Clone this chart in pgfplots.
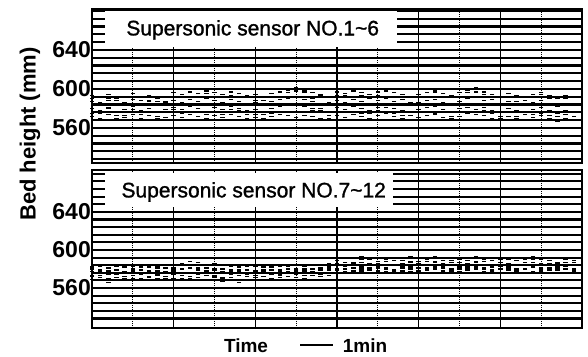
\documentclass[border=0pt]{standalone}
\usepackage{pgfplots}
\usepackage{pgfplotstable}
\pgfplotsset{compat=1.18}
\usepackage{fontspec}
\setmainfont{Liberation Sans}
\newfontfamily\medfont[FakeBold=1.2]{Liberation Sans}

\pgfplotstableread{
x a b c d e f
0.0 593 587 580 572 590 575
0.2 591 585 578 570 586 575
0.4 594 588 581 574 590 580
0.6 590 584 577 569 588 573
0.8 592 586 579 571 586 573
1.0 595 589 582 574 591 579
1.2 591 585 578 570 588 574
1.4 593 587 580 573 588 576
1.6 590 584 577 569 587 572
1.8 592 586 579 571 587 576
2.0 596 588 581 573 592 579
2.2 594 586 579 571 592 575
2.4 597 589 582 574 591 576
2.6 595 587 580 572 591 577
2.8 598 590 583 570 595 574
3.0 596 588 581 573 591 576
3.2 594 586 579 571 591 574
3.4 597 589 582 574 593 579
3.6 595 587 580 572 591 578
3.8 593 585 578 570 591 574
4.0 594 586 579 571 588 574
4.2 592 584 577 569 588 574
4.4 595 587 580 572 592 575
4.6 597 589 582 574 592 577
4.8 599 590 583 573 596 576
5.0 601 592 584 571 598 577
5.2 598 589 582 573 596 577
5.4 596 587 580 572 590 578
5.6 594 585 578 570 593 580
5.8 592 584 577 569 586 573
6.0 597 588 581 573 593 577
6.2 595 586 579 571 593 577
6.4 598 589 582 574 592 576
6.6 596 587 580 572 593 575
6.8 594 585 578 570 590 575
7.0 597 588 581 573 593 578
7.2 599 590 583 575 598 581
7.4 596 587 580 572 592 575
7.6 594 585 578 570 589 573
7.8 592 583 576 568 586 573
8.0 594 586 579 571 591 576
8.2 596 588 581 573 592 577
8.4 598 589 582 574 596 575
8.6 595 586 579 571 591 576
8.8 593 584 577 569 591 572
9.0 596 587 580 572 591 576
9.2 599 590 583 575 596 581
9.4 601 591 584 574 597 579
9.6 597 588 581 573 594 578
9.8 594 585 578 570 589 575
10.0 592 584 577 569 591 572
10.2 595 587 580 572 591 576
10.4 593 585 578 570 587 572
10.6 591 583 576 568 588 574
10.8 594 586 579 571 591 574
11.0 596 588 581 573 594 575
11.2 593 585 578 570 590 573
11.4 590 582 575 567 585 572
11.6 593 585 578 570 590 574
11.8 591 583 576 568 585 572
}\uppertable

\pgfplotstableread{
x a b c d e f
0.0 582 577 572 580 573 569
0.2 583 578 573 579 576 571
0.4 581 576 570 578 574 566
0.6 584 579 574 583 576 571
0.8 582 577 572 577 572 570
1.0 583 578 573 580 576 570
1.2 584 579 574 582 576 570
1.4 582 577 571 578 572 569
1.6 583 578 573 581 574 570
1.8 581 576 572 577 575 570
2.0 584 579 574 581 578 570
2.2 586 580 573 584 575 570
2.4 588 581 572 581 572 570
2.6 587 579 571 581 574 568
2.8 585 578 573 581 575 569
3.0 586 579 572 580 573 571
3.2 584 577 570 580 571 567
3.4 583 578 571 579 574 569
3.6 582 577 569 579 573 566
3.8 584 579 572 583 574 569
4.0 583 578 573 578 575 571
4.2 582 577 572 579 575 569
4.4 584 579 574 582 576 570
4.6 583 578 573 579 574 571
4.8 585 580 575 583 577 572
5.0 584 579 574 580 577 571
5.2 583 578 573 580 575 570
5.4 585 580 575 584 577 573
5.6 584 579 574 581 574 572
5.8 586 581 576 583 579 573
6.0 589 584 579 586 580 575
6.2 591 585 580 587 583 577
6.4 592 586 581 587 585 578
6.6 593 587 580 590 582 578
6.8 590 585 579 586 581 575
7.0 591 586 581 588 583 578
7.2 590 585 580 588 581 577
7.4 589 584 578 585 579 576
7.6 592 586 581 589 583 578
7.8 593 587 580 588 582 577
8.0 591 586 581 588 584 578
8.2 590 585 579 588 581 576
8.4 593 587 582 588 584 580
8.6 591 586 581 589 583 578
8.8 589 584 578 587 580 575
9.0 590 585 580 587 582 577
9.2 592 586 581 589 583 579
9.4 593 587 582 588 583 580
9.6 590 585 580 588 581 577
9.8 589 584 579 585 582 577
10.0 590 585 580 587 583 576
10.2 592 586 581 590 582 579
10.4 589 584 578 584 580 576
10.6 590 585 580 587 580 576
10.8 593 587 582 590 584 577
11.0 590 585 580 586 581 578
11.2 589 584 579 586 581 576
11.4 591 586 581 587 583 579
11.6 590 585 580 587 583 576
11.8 589 584 578 587 580 577
}\lowertable

\begin{document}
\begin{tikzpicture}
\pgfplotsset{
  recorder/.style={
    scale only axis, width=490pt,
    xmin=0, xmax=12,
    xtick={2,4,...,10}, xticklabels={},
    extra x ticks={1,3,...,11}, extra x tick labels={},
    extra x tick style={grid=major, major grid style={black, line width=1pt, densely dotted}},
    xmajorgrids, major grid style={black, line width=1.1pt},
    x tick style={draw=none},
    ytick={560,600,640}, minor ytick={528,536,...,680},
    ymajorgrids=false, yminorgrids,
    minor grid style={black, line width=2.1pt},
    ytick pos=left,
    y tick style={black, line width=1.5pt},
    major tick length=8pt, minor tick length=8pt,
    axis line style={line width=2.8pt},
    /pgf/number format/assume math mode=true,
    yticklabel style={font=\fontsize{23}{23}\selectfont\bfseries, inner sep=1pt},
  },
  dots/.style={black, only marks, mark=-, mark size=2.2pt, mark options={line width=1.3pt}},
}
\path[use as bounding box] (0,0) rectangle (588pt,-356pt);

\begin{axis}[recorder, at={(92pt,-9pt)}, anchor=north west, height=154pt,
  ymin=524, ymax=682]
  \addplot[dots] table[x=x, y=a] {\uppertable};
  \addplot[dots] table[x=x, y=e] {\uppertable};
  \addplot[dots] table[x=x, y=b] {\uppertable};
  \addplot[dots] table[x=x, y=c] {\uppertable};
  \addplot[dots] table[x=x, y=f] {\uppertable};
  \addplot[dots] table[x=x, y=d] {\uppertable};
  \fill[white] (rel axis cs:0.026,0.753) rectangle (rel axis cs:0.622,0.985);
  \node[font=\medfont\fontsize{21}{21}\selectfont] at (rel axis cs:0.328,0.864) {Supersonic sensor NO.1\textasciitilde 6};
\end{axis}

\begin{axis}[recorder, at={(92pt,-170pt)}, anchor=north west, height=158pt,
  ymin=518, ymax=684]
  \addplot[dots] table[x=x, y=a] {\lowertable};
  \addplot[dots] table[x=x, y=d] {\lowertable};
  \addplot[dots] table[x=x, y=b] {\lowertable};
  \addplot[dots] table[x=x, y=e] {\lowertable};
  \addplot[dots] table[x=x, y=c] {\lowertable};
  \addplot[dots] table[x=x, y=f] {\lowertable};
  \fill[white] (rel axis cs:0.026,0.766) rectangle (rel axis cs:0.614,0.98);
  \node[font=\medfont\fontsize{21}{21}\selectfont] at (rel axis cs:0.33,0.861) {Supersonic sensor NO.7\textasciitilde 12};
\end{axis}

\node[rotate=90, font=\bfseries\fontsize{22}{22}\selectfont] at (30pt,-134pt) {Bed height (mm)};
\node[font=\bfseries\fontsize{19}{19}\selectfont, anchor=base] at (246pt,-352pt) {Time};
\draw[line width=1.4pt] (300pt,-345pt) -- (333pt,-345pt);
\node[font=\bfseries\fontsize{19}{19}\selectfont, anchor=base] at (365pt,-352pt) {1min};
\end{tikzpicture}
\end{document}
